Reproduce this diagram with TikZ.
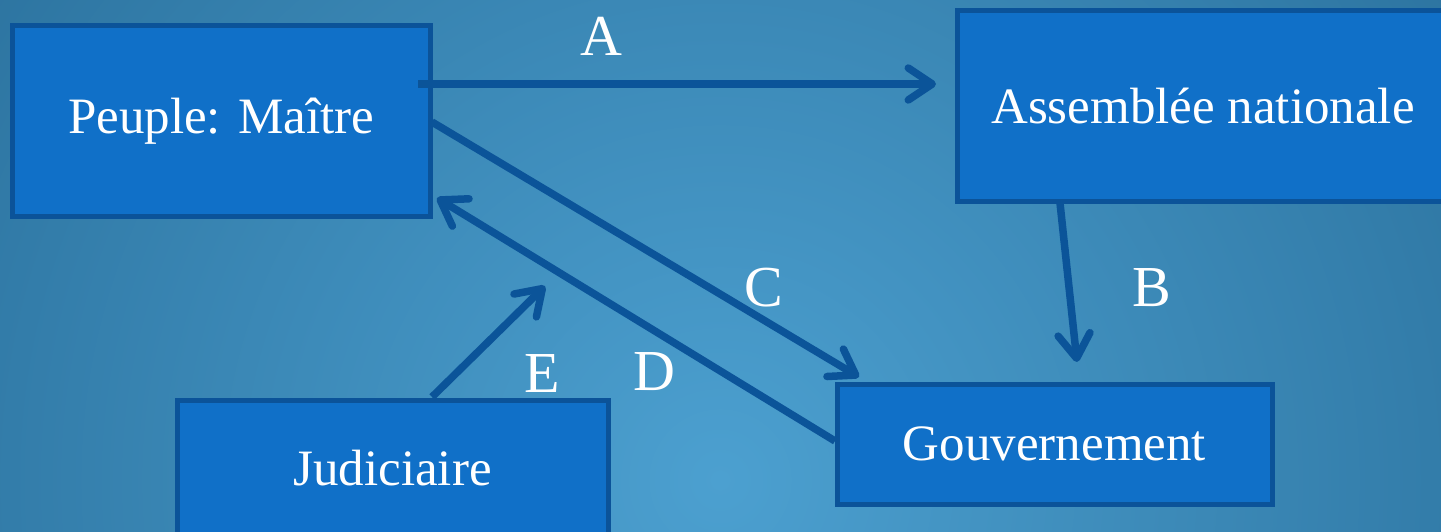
\documentclass[tikz,border=0pt]{standalone}
\usepackage{fontspec}
\setmainfont{Liberation Serif}
\usetikzlibrary{arrows.meta,calc}
\definecolor{boxfill}{HTML}{1070C8}
\definecolor{boxline}{HTML}{0B5399}
\definecolor{arrowcol}{HTML}{0B5499}
\definecolor{bginner}{HTML}{4CA0D0}
\definecolor{bgouter}{HTML}{1A5A84}
\begin{document}
\begin{tikzpicture}[x=1pt,y=-1pt,
  box/.style={draw=boxline, line width=5pt, fill=boxfill, text=white,
    font=\fontsize{51}{60}\selectfont, inner sep=0pt, outer sep=0pt, minimum width=#1},
  conn/.style={draw=arrowcol, line width=7.5pt,
    -{Straight Barb[length=24pt,width=32pt,round]}},
  lbl/.style={text=white, font=\fontsize{58}{68}\selectfont, inner sep=0pt}]
\useasboundingbox (0,0) rectangle (1441,532);
\begin{scope}
\clip (0,0) rectangle (1441,532);
\shade[inner color=bginner, outer color=bgouter] (720,480) circle (1420);
\node[box=418pt, minimum height=191pt] (P) at (221,121) {Peuple: Maître};
\node[box=492pt, minimum height=190pt] (AN) at (1203,106) {Assemblée nationale};
\node[box=435pt, minimum height=120pt] (G) at (1054.5,444) {Gouvernement};
\node[box=431pt, minimum height=136pt] (J) at (392.5,468) {Judiciaire};
\end{scope}
\coordinate (Etip) at (545,286);
\draw[conn] ($(P.north east)+(-12,58.5)$) -- ($(AN.north west)+(-21,73)$);
\draw[conn] ($(AN.south west)+(103,2)$) -- ($(G.north west)+(240,-22)$);
\draw[conn] ($(P.east)+(2,1)$) -- ($(G.north west)+(22,-7)$);
\draw[conn] ($(G.west)+(-2,-3)$) -- ($(P.south east)+(7,-18.5)$);
\draw[conn] ($(J.north west)+(255,-3)$) -- (Etip);
\node[lbl] (LA) at (601,36) {A};
\node[lbl] (LB) at (1152,288) {B};
\node[lbl] (LC) at (764,288) {C};
\node[lbl] (LD) at (654,372) {D};
\node[lbl] (LE) at (542,374) {E};
\end{tikzpicture}
\end{document}
